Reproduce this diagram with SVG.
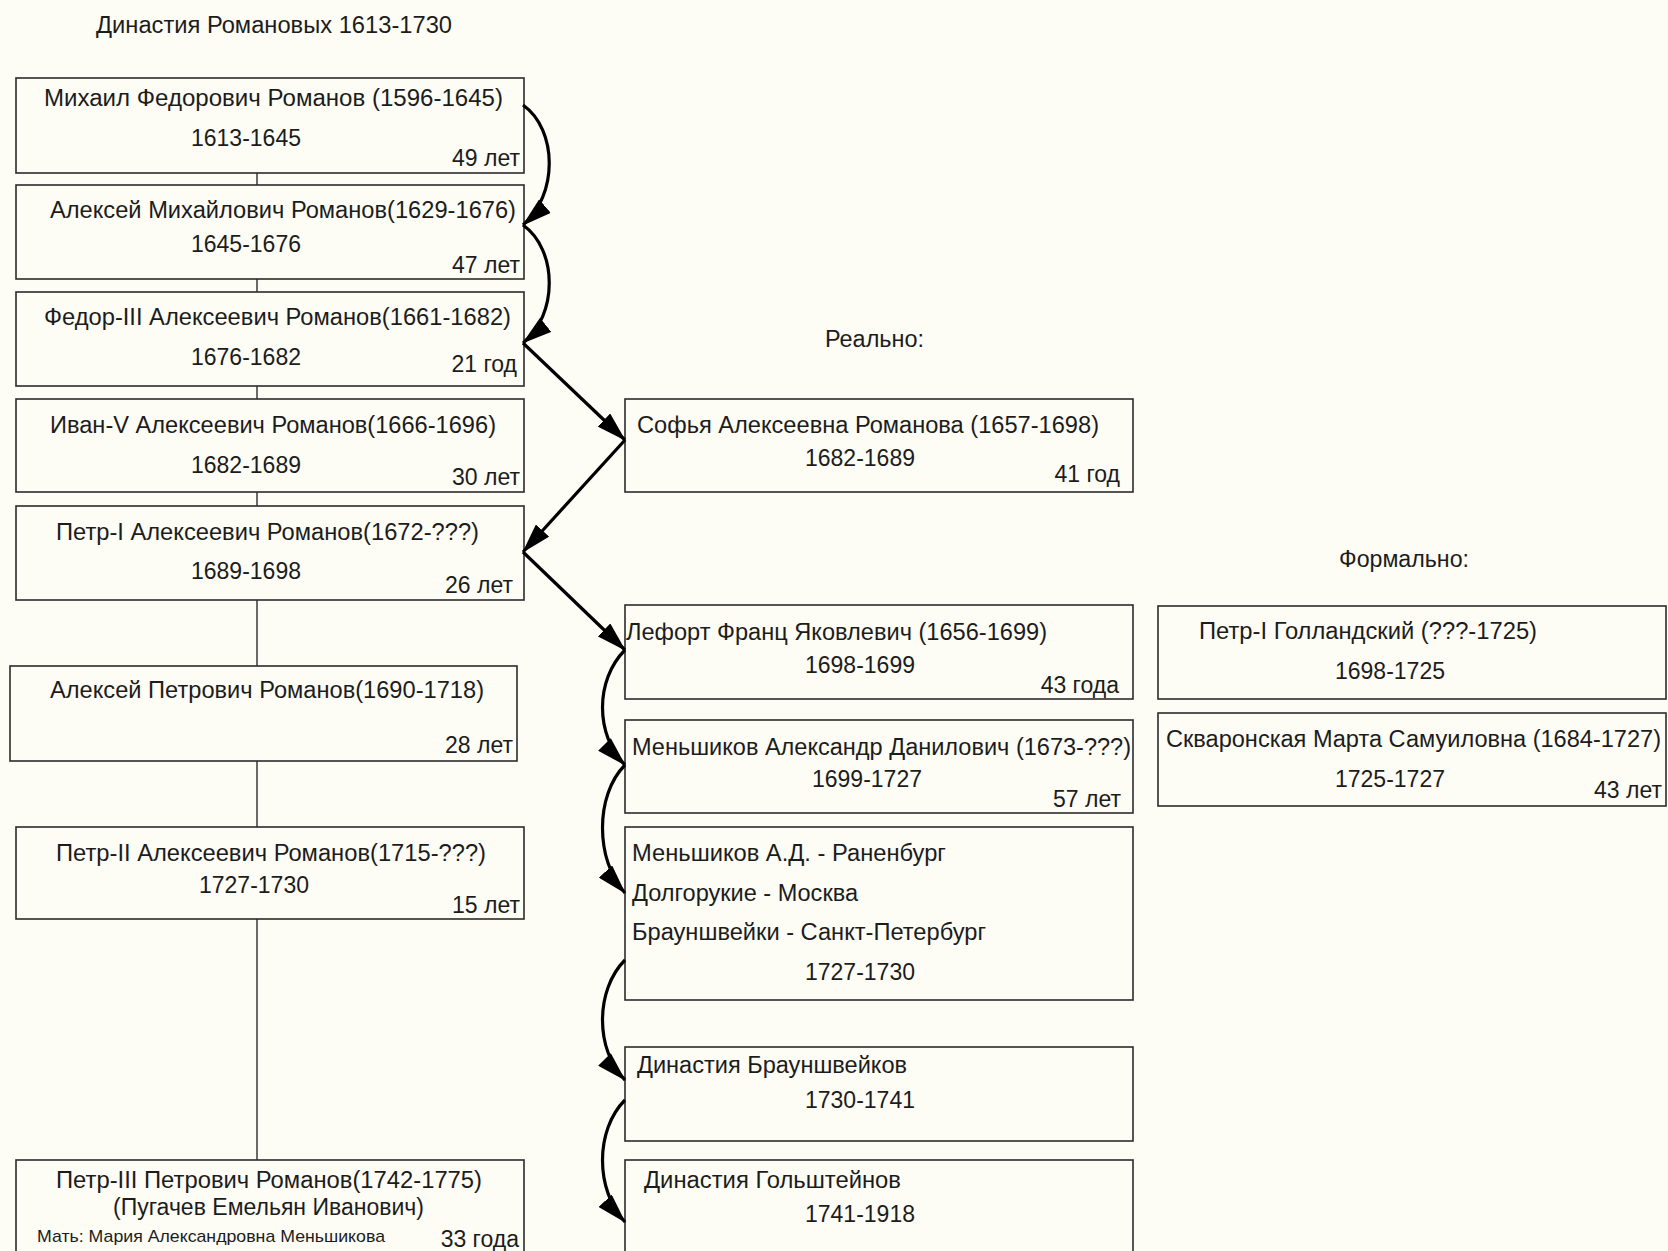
<svg xmlns="http://www.w3.org/2000/svg" width="1668" height="1251" viewBox="0 0 1668 1251">
<style>
.bg{fill:#fdfcf5}
.box{fill:#fdfcf5;stroke:#2b2b2b;stroke-width:1.6}
.t{font-family:"Liberation Sans",Arial,sans-serif;font-size:23px;fill:#1c1c1c}
.s{font-family:"Liberation Sans",Arial,sans-serif;font-size:17px;fill:#1c1c1c}
.e{text-anchor:end}
.tree{stroke:#3a3a3a;stroke-width:1.5;fill:none}
.arr{stroke:#000;stroke-width:3.2;fill:none;marker-end:url(#ah)}
</style>
<defs>
<marker id="ah" viewBox="0 0 30 18" refX="29" refY="9" markerWidth="30" markerHeight="18" markerUnits="userSpaceOnUse" orient="auto">
<path d="M0,0 L30,9 L0,18 z" fill="#000"/>
</marker>
</defs>
<rect class="bg" x="0" y="0" width="1668" height="1251"/>
<text class="t" x="96" y="33" textLength="356" lengthAdjust="spacingAndGlyphs">Династия Романовых 1613-1730</text>
<text class="t" x="825" y="347" textLength="99" lengthAdjust="spacingAndGlyphs">Реально:</text>
<text class="t" x="1339" y="567" textLength="130" lengthAdjust="spacingAndGlyphs">Формально:</text>

<g id="tree-lines">
<path class="tree" d="M257,173V185M257,279V292M257,386V399M257,492V506M257,600V666M257,761V827M257,919V1167"/>
</g>

<g id="n1"><rect class="box" x="16" y="78" width="508" height="95"/>
<text class="t" x="44" y="106" textLength="459" lengthAdjust="spacingAndGlyphs">Михаил Федорович  Романов (1596-1645)</text>
<text class="t" x="191" y="146">1613-1645</text>
<text class="t e" x="520" y="166">49 лет</text></g>

<g id="n2"><rect class="box" x="16" y="185" width="508" height="94"/>
<text class="t" x="50" y="218" textLength="466" lengthAdjust="spacingAndGlyphs">Алексей Михайлович Романов(1629-1676)</text>
<text class="t" x="191" y="252">1645-1676</text>
<text class="t e" x="520" y="273">47 лет</text></g>

<g id="n3"><rect class="box" x="16" y="292" width="508" height="94"/>
<text class="t" x="44" y="325" textLength="467" lengthAdjust="spacingAndGlyphs">Федор-III Алексеевич Романов(1661-1682)</text>
<text class="t" x="191" y="365">1676-1682</text>
<text class="t e" x="517" y="372">21 год</text></g>

<g id="n4"><rect class="box" x="16" y="399" width="508" height="93"/>
<text class="t" x="50" y="433" textLength="446" lengthAdjust="spacingAndGlyphs">Иван-V Алексеевич Романов(1666-1696)</text>
<text class="t" x="191" y="473">1682-1689</text>
<text class="t e" x="520" y="485">30 лет</text></g>

<g id="n5"><rect class="box" x="16" y="506" width="508" height="94"/>
<text class="t" x="56" y="540" textLength="423" lengthAdjust="spacingAndGlyphs">Петр-I Алексеевич Романов(1672-???)</text>
<text class="t" x="191" y="579">1689-1698</text>
<text class="t e" x="513" y="593">26 лет</text></g>

<g id="n6"><rect class="box" x="10" y="666" width="507" height="95"/>
<text class="t" x="50" y="698" textLength="434" lengthAdjust="spacingAndGlyphs">Алексей Петрович Романов(1690-1718)</text>
<text class="t e" x="513" y="753">28 лет</text></g>

<g id="n7"><rect class="box" x="16" y="827" width="508" height="92"/>
<text class="t" x="56" y="861" textLength="430" lengthAdjust="spacingAndGlyphs">Петр-II Алексеевич Романов(1715-???)</text>
<text class="t" x="199" y="893">1727-1730</text>
<text class="t e" x="520" y="913">15 лет</text></g>

<g id="n8"><rect class="box" x="16" y="1160" width="508" height="110"/>
<text class="t" x="56" y="1188" textLength="426" lengthAdjust="spacingAndGlyphs">Петр-III Петрович Романов(1742-1775)</text>
<text class="t" x="113" y="1215" textLength="311" lengthAdjust="spacingAndGlyphs">(Пугачев Емельян Иванович)</text>
<text class="s" x="37" y="1242" textLength="348" lengthAdjust="spacingAndGlyphs">Мать: Мария Александровна Меньшикова</text>
<text class="t e" x="519" y="1247">33 года</text></g>

<g id="n9"><rect class="box" x="625" y="399" width="508" height="93"/>
<text class="t" x="637" y="433" textLength="462" lengthAdjust="spacingAndGlyphs">Софья Алексеевна Романова (1657-1698)</text>
<text class="t" x="805" y="466">1682-1689</text>
<text class="t e" x="1120" y="482">41 год</text></g>

<g id="n10"><rect class="box" x="625" y="605" width="508" height="94"/>
<text class="t" x="626" y="640" textLength="421" lengthAdjust="spacingAndGlyphs">Лефорт Франц Яковлевич (1656-1699)</text>
<text class="t" x="805" y="673">1698-1699</text>
<text class="t e" x="1119" y="693">43 года</text></g>

<g id="n11"><rect class="box" x="625" y="720" width="508" height="93"/>
<text class="t" x="632" y="755" textLength="499" lengthAdjust="spacingAndGlyphs">Меньшиков Александр Данилович (1673-???)</text>
<text class="t" x="812" y="787">1699-1727</text>
<text class="t e" x="1121" y="807">57 лет</text></g>

<g id="n12"><rect class="box" x="625" y="827" width="508" height="173"/>
<text class="t" x="632" y="861" textLength="314" lengthAdjust="spacingAndGlyphs">Меньшиков А.Д. - Раненбург</text>
<text class="t" x="632" y="901" textLength="226" lengthAdjust="spacingAndGlyphs">Долгорукие - Москва</text>
<text class="t" x="632" y="940" textLength="354" lengthAdjust="spacingAndGlyphs">Брауншвейки - Санкт-Петербург</text>
<text class="t" x="805" y="980">1727-1730</text></g>

<g id="n13"><rect class="box" x="625" y="1047" width="508" height="94"/>
<text class="t" x="637" y="1073" textLength="270" lengthAdjust="spacingAndGlyphs">Династия Брауншвейков</text>
<text class="t" x="805" y="1108">1730-1741</text></g>

<g id="n14"><rect class="box" x="625" y="1160" width="508" height="110"/>
<text class="t" x="644" y="1188" textLength="257" lengthAdjust="spacingAndGlyphs">Династия Гольштейнов</text>
<text class="t" x="805" y="1222">1741-1918</text></g>

<g id="n15"><rect class="box" x="1158" y="606" width="508" height="93"/>
<text class="t" x="1199" y="639" textLength="338" lengthAdjust="spacingAndGlyphs">Петр-I Голландский (???-1725)</text>
<text class="t" x="1335" y="679">1698-1725</text></g>

<g id="n16"><rect class="box" x="1158" y="713" width="508" height="93"/>
<text class="t" x="1166" y="747" textLength="495" lengthAdjust="spacingAndGlyphs">Скваронская Марта Самуиловна (1684-1727)</text>
<text class="t" x="1335" y="787">1725-1727</text>
<text class="t e" x="1662" y="798">43 лет</text></g>

<g id="connectors">
<path class="arr" d="M523,105 C558,130 558,195 523,225"/>
<path class="arr" d="M523,225 C558,250 558,315 523,343"/>
<path class="arr" d="M523,343 L625,440"/>
<path class="arr" d="M625,440 L523,552"/>
<path class="arr" d="M523,552 L625,650"/>
<path class="arr" d="M625,650 C595,680 595,735 625,765"/>
<path class="arr" d="M625,765 C595,795 595,860 625,893"/>
<path class="arr" d="M625,960 C595,990 595,1050 625,1080"/>
<path class="arr" d="M625,1100 C595,1130 595,1190 625,1222"/>
</g>
</svg>
